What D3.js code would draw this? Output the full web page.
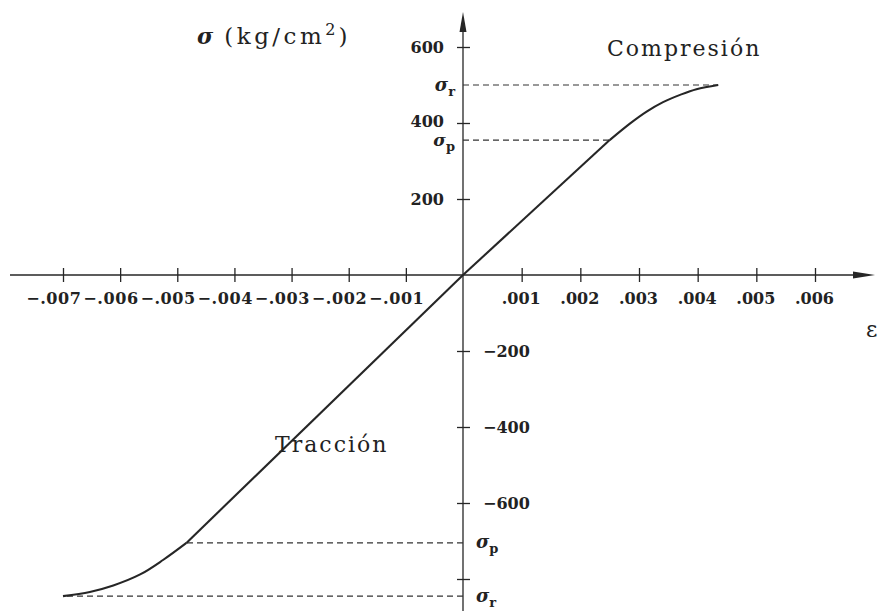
<!DOCTYPE html>
<html>
<head>
<meta charset="utf-8">
<script src="https://cdn.jsdelivr.net/npm/d3@7"></script>
<style>
  html, body { margin: 0; padding: 0; background: #fff; }
  svg { display: block; }
  .tick-label { font-family: "DejaVu Serif", serif; font-weight: bold; font-size: 16px; fill: #222; }
  .title { font-family: "DejaVu Serif", serif; font-size: 22px; fill: #222; letter-spacing: 2px; }
</style>
</head>
<body>
<svg id="chart" width="879" height="611"></svg>
<script>
// Strain ticks (ε) and stress ticks (σ, kg/cm²)
const strainTicks = [-0.007, -0.006, -0.005, -0.004, -0.003, -0.002, -0.001, 0.001, 0.002, 0.003, 0.004, 0.005, 0.006];
const strainTickLabels = ["−.007", "−.006", "−.005", "−.004", "−.003", "−.002", "−.001", ".001", ".002", ".003", ".004", ".005", ".006"];
const stressTicks = [600, 400, 200, -200, -400, -600, -800];
const stressTickLabels = ["600", "400", "200", "−200", "−400", "−600", ""];

// Compression branch: elastic up to σp, then curved up to σr
const compStrain = [0, 0.0025, 0.00285, 0.00313, 0.00341, 0.0037, 0.00398, 0.00435];
const compStress = [0, 355, 399, 430, 455, 474, 489, 500];
// Tension branch: elastic down to σp, then curved down to σr
const tensStrain = [0, -0.00484, -0.00525, -0.00565, -0.00612, -0.00653, -0.007];
const tensStress = [0, -705, -750, -788, -817, -834, -845];

const svg = d3.select("#chart");
const W = 879, H = 611;

const x = d3.scaleLinear().domain([-0.007, 0, 0.006]).range([63, 463, 815]);
const y = d3.scaleLinear().domain([-800, 600]).range([579, 47]);

const x0 = x(0), y0 = y(0);
const ink = "#262626";

// Axes lines
svg.append("line").attr("x1", 10).attr("x2", 860).attr("y1", y0).attr("y2", y0)
  .attr("stroke", ink).attr("stroke-width", 1.3);
svg.append("line").attr("x1", x0).attr("x2", x0).attr("y1", 25).attr("y2", H)
  .attr("stroke", ink).attr("stroke-width", 1.3);
// Arrow heads
svg.append("path").attr("d", `M875,${y0} L853,${y0 - 3.5} L853,${y0 + 3.5} Z`).attr("fill", ink);
svg.append("path").attr("d", `M${x0},12 L${x0 - 3.5},32 L${x0 + 3.5},32 Z`).attr("fill", ink);

// Strain axis ticks
const xAxis = d3.axisBottom(x)
  .tickValues(strainTicks)
  .tickSizeInner(7)
  .tickSizeOuter(0)
  .tickFormat((d, i) => strainTickLabels[i]);
const gx = svg.append("g").attr("transform", `translate(0,${y0})`).call(xAxis);
gx.select(".domain").remove();
gx.selectAll(".tick line").attr("y1", -7).attr("y2", 7).attr("stroke", ink).attr("stroke-width", 1.3);
gx.selectAll(".tick text")
  .attr("class", "tick-label")
  .attr("font-family", null).attr("font-size", null)
  .attr("y", 29).attr("dy", null)
  .attr("text-anchor", d => d < 0 ? "end" : "middle")
  .attr("x", d => d < 0 ? 18 : -1)
  .attr("letter-spacing", d => d < 0 ? "0.6px" : null);

// Stress axis ticks
const yAxis = d3.axisLeft(y)
  .tickValues(stressTicks)
  .tickSizeInner(6)
  .tickSizeOuter(0)
  .tickFormat((d, i) => stressTickLabels[i]);
const gy = svg.append("g").attr("transform", `translate(${x0},0)`).call(yAxis);
gy.select(".domain").remove();
gy.selectAll(".tick line").attr("x1", -6).attr("x2", 7).attr("stroke", ink).attr("stroke-width", 1.3);
gy.selectAll(".tick text")
  .attr("class", "tick-label")
  .attr("font-family", null).attr("font-size", null)
  .attr("dy", d => d === 400 ? "0.2em" : "0.36em")
  .attr("text-anchor", d => d > 0 ? "end" : "start")
  .attr("x", d => d > 0 ? -19 : 20);

// Dashed guide lines for σp and σr
const guides = [
  { s: compStrain[1], v: compStress[1] },
  { s: compStrain[compStrain.length - 1], v: compStress[compStress.length - 1] },
  { s: tensStrain[1], v: tensStress[1] },
  { s: tensStrain[tensStrain.length - 1], v: tensStress[tensStress.length - 1] }
];
svg.selectAll(".guide").data(guides).enter().append("line")
  .attr("class", "guide")
  .attr("x1", x0).attr("x2", d => x(d.s))
  .attr("y1", d => y(d.v)).attr("y2", d => y(d.v))
  .attr("stroke", "#333").attr("stroke-width", 1.1).attr("stroke-dasharray", "6,4");

// Stress–strain curve
const lineLin = d3.line().x(d => x(d[0])).y(d => y(d[1]));
const lineCurve = d3.line().x(d => x(d[0])).y(d => y(d[1])).curve(d3.curveCatmullRom.alpha(0.5));
function drawBranch(strain, stress) {
  const pts = strain.map((s, i) => [s, stress[i]]);
  svg.append("path").attr("d", lineLin(pts.slice(0, 2)))
    .attr("fill", "none").attr("stroke", ink).attr("stroke-width", 2.1);
  svg.append("path").attr("d", lineCurve(pts.slice(1)))
    .attr("fill", "none").attr("stroke", ink).attr("stroke-width", 2.1);
}
drawBranch(compStrain, compStress);
drawBranch(tensStrain, tensStress);

// σ labels beside the axis
function sigmaLabel(xPos, value, sub, anchor, size) {
  const t = svg.append("text")
    .attr("x", xPos).attr("y", y(value) + 5.5)
    .attr("text-anchor", anchor)
    .attr("font-family", "DejaVu Serif, serif").attr("fill", "#222");
  t.append("tspan").attr("font-size", size).attr("font-style", "italic").attr("font-weight", "bold").text("σ");
  t.append("tspan").attr("font-size", 13).attr("font-weight", "bold").attr("dy", 5).text(sub);
}
sigmaLabel(455, compStress[compStress.length - 1], "r", "end", 18);
sigmaLabel(455, compStress[1], "p", "end", 17);
sigmaLabel(476, tensStress[1], "p", "start", 18);
sigmaLabel(476, tensStress[tensStress.length - 1], "r", "start", 18);

// Axis titles and region labels
const yTitle = svg.append("text").attr("x", 197).attr("y", 44)
  .attr("font-family", "DejaVu Serif, serif").attr("fill", "#222");
yTitle.append("tspan").attr("font-size", 22).attr("font-weight", "bold").attr("font-style", "italic").text("σ");
yTitle.append("tspan").attr("font-size", 23).attr("dx", 11).attr("letter-spacing", "3.5px").text("(kg/cm");
yTitle.append("tspan").attr("font-size", 16).attr("dy", -9).text("2");
yTitle.append("tspan").attr("font-size", 23).attr("dy", 9).attr("dx", 3).text(")");

svg.append("text").attr("class", "title").attr("x", 607).attr("y", 56).text("Compresión");
svg.append("text").attr("class", "title").attr("x", 275).attr("y", 452).text("Tracción");
svg.append("text").attr("x", 866).attr("y", 337)
  .attr("font-family", "DejaVu Serif, serif").attr("font-size", 22).attr("fill", "#222").text("ε");
</script>
</body>
</html>
